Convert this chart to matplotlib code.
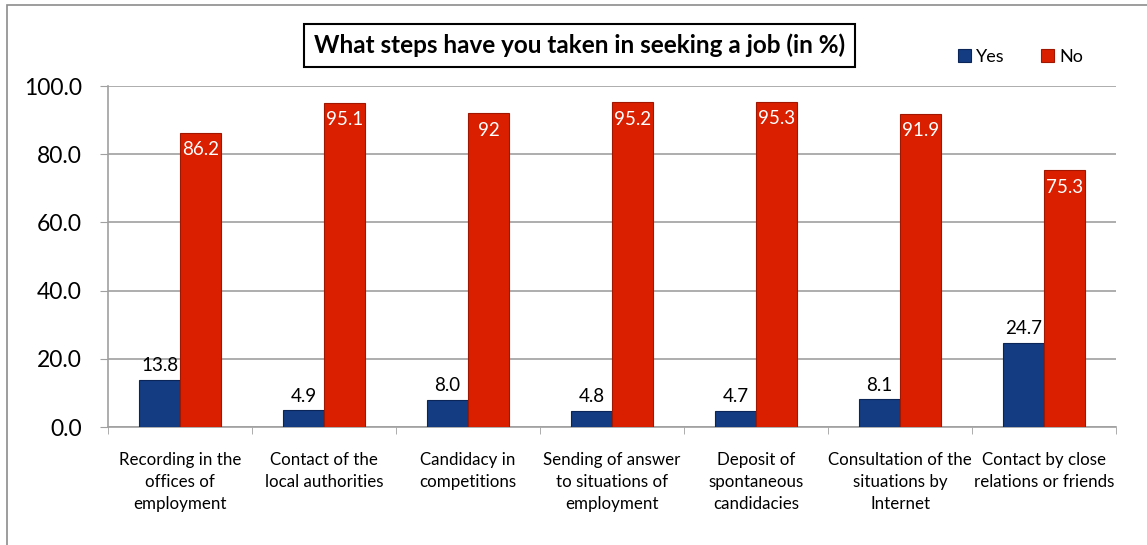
import numpy as np
import matplotlib.pyplot as plt
from matplotlib.patches import Rectangle

plt.rcParams['font.family'] = ['Lato', 'DejaVu Sans']

# datos de la encuesta
categorias = ["Recording in the\noffices of\nemployment",
              "Contact of the\nlocal authorities",
              "Candidacy in\ncompetitions",
              "Sending of answer\nto situations of\nemployment",
              "Deposit of\nspontaneous\ncandidacies",
              "Consultation of the\nsituations by\nInternet",
              "Contact by close\nrelations or friends"]
si = [13.8, 4.9, 8.0, 4.8, 4.7, 8.1, 24.7]
no = [86.2, 95.1, 92, 95.2, 95.3, 91.9, 75.3]
etiquetas_no = ["86.2", "95.1", "92", "95.2", "95.3", "91.9", "75.3"]

azul = '#143C82'
rojo = '#DA1F00'

fig = plt.figure(figsize=(11.47, 5.45), dpi=100)
ax = fig.add_axes([0.0942, 0.2165, 0.879, 0.6257])

# marco exterior del grafico
fig.patches.append(Rectangle((0.006, -0.05), 1.05, 1.04, transform=fig.transFigure,
                             fill=False, edgecolor='#8C8C8C', linewidth=1.2))

x = np.arange(len(categorias))
ancho = 0.285

b1 = ax.bar(x - ancho / 2, si, ancho, color=azul, edgecolor='#0B2558', linewidth=0.8,
            label='Yes', zorder=3)
b2 = ax.bar(x + ancho / 2, no, ancho, color=rojo, edgecolor='#A01600', linewidth=0.8,
            label='No', zorder=3)

# etiquetas de valores
for xi, v in zip(x, si):
    ax.annotate(f"{v:.1f}", (xi - ancho / 2, v), xytext=(0, 4), textcoords='offset points',
                ha='center', va='bottom', fontsize=13.5, color='black')
for xi, v, t in zip(x, no, etiquetas_no):
    ax.annotate(t, (xi + ancho / 2, v), xytext=(0, -6), textcoords='offset points',
                ha='center', va='top', fontsize=13.5, color='white', zorder=4)

ax.set_xlim(-0.5, len(categorias) - 0.5)
ax.set_ylim(0, 100)
ax.set_yticks(np.arange(0, 101, 20))
ax.set_yticklabels([f"{v:.1f}" for v in np.arange(0, 101, 20)], fontsize=16.5)
ax.set_xticks(x)
ax.set_xticklabels(categorias, fontsize=12.2, linespacing=1.45, va='top')
ax.tick_params(axis='x', length=0, pad=18)
ax.set_xticks(np.arange(-0.5, len(categorias)), minor=True)
ax.tick_params(axis='x', which='minor', length=5, color='#A0A0A0', direction='out')
ax.tick_params(axis='y', length=6, color='#A0A0A0', direction='out', pad=13)

ax.grid(axis='y', color='#A0A0A0', linewidth=1.2, zorder=0)
ax.set_axisbelow(True)
for lado in ['top', 'right']:
    ax.spines[lado].set_visible(False)
for lado in ['left', 'bottom']:
    ax.spines[lado].set_color('#A0A0A0')
    ax.spines[lado].set_linewidth(1.2)

# titulo en recuadro
fig.text(0.505, 0.917, "What steps have you taken in seeking a job (in %)", ha='center', va='center',
         fontsize=17.5, fontweight='bold',
         bbox=dict(boxstyle='square,pad=0.4', facecolor='white', edgecolor='black', linewidth=1.5))

ax.legend(loc='center', bbox_to_anchor=(0.905, 1.085), ncol=2, frameon=False, fontsize=13,
          handlelength=0.7, handleheight=0.7, handletextpad=0.3, columnspacing=2.0)

plt.savefig('out.png', dpi=100)
